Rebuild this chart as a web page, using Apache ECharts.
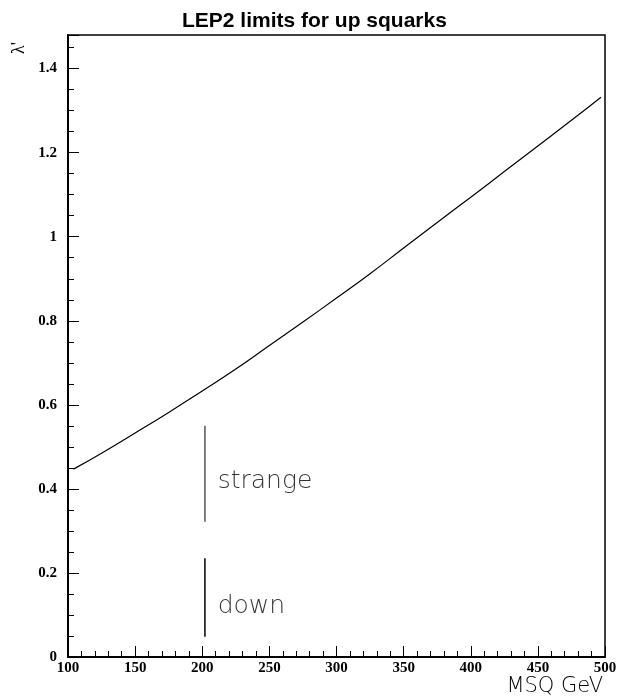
<!DOCTYPE html>
<html>
<head>
<meta charset="utf-8">
<script src="https://cdn.jsdelivr.net/npm/echarts@6/dist/echarts.min.js"></script>
<style>html,body{margin:0;padding:0;background:#fff;}#c{width:620px;height:698px;}</style>
</head>
<body>
<div id="c"></div>
<script>
// Limit curve (MSQ in GeV, lambda' limit)
const msq = [104,125,150,175,200,225,250,275,300,325,350,375,400,425,450,475,497];
const lambdaLimit = [0.447,0.485,0.533,0.582,0.633,0.685,0.741,0.797,0.854,0.912,0.973,1.034,1.094,1.155,1.216,1.277,1.332];
// Vertical marker lines for strange and down
const strangeLine = [[202,0.550],[202,0.322]];
const downLine = [[202,0.235],[202,0.048]];
// Annotation labels [x, y, text]
const annotations = [[211.5,0.417,'strange'],[211.5,0.120,'down']];
const xTicks = {min:100, max:500, interval:50};
const yTicks = {min:0, max:1.48, interval:0.2};

const chart = echarts.init(document.getElementById('c'), null, {renderer:'canvas'});
const tickFont = {fontFamily:'"Liberation Serif", "Times New Roman", serif', fontWeight:'bold', fontSize:15, color:'#000'};
const thinFont = '"DejaVu Sans ExtraLight", "DejaVu Sans", sans-serif';
chart.setOption({
  animation:false,
  backgroundColor:'#fff',
  title:[
    {text:'LEP2 limits for up squarks', left:177, top:6,
     textStyle:{fontFamily:'"Liberation Sans", Arial, sans-serif', fontWeight:'bold', fontSize:21, color:'#000'}},
    {text:'MSQ GeV', right:12, top:671,
     textStyle:{fontFamily:thinFont, fontWeight:200, fontSize:21, color:'#000'}}
  ],
  graphic:[
    {type:'text', x:10, y:54, rotation:Math.PI/2, originX:0, originY:0,
     style:{text:"λ'", font:'18px "Liberation Serif", serif', fill:'#000', x:0, y:0}}
  ],
  grid:{left:68, right:15, top:35, bottom:41, show:true, borderColor:'#000', borderWidth:1.5},
  xAxis:{
    type:'value', min:xTicks.min, max:xTicks.max, interval:xTicks.interval,
    axisLine:{show:true, onZero:false, lineStyle:{color:'#000', width:2}},
    axisTick:{show:true, inside:true, length:11, lineStyle:{color:'#000', width:1}},
    minorTick:{show:true, splitNumber:5, length:6, lineStyle:{color:'#000', width:1}},
    splitLine:{show:false},
    axisLabel:{...tickFont, margin:4, showMinLabel:true, showMaxLabel:true}
  },
  yAxis:{
    type:'value', min:yTicks.min, max:yTicks.max, interval:yTicks.interval,
    axisLine:{show:true, onZero:false, lineStyle:{color:'#000', width:2}},
    axisTick:{show:true, inside:true, length:11, lineStyle:{color:'#000', width:1}},
    minorTick:{show:true, splitNumber:4, length:6, lineStyle:{color:'#000', width:1}},
    splitLine:{show:false},
    axisLabel:{...tickFont, margin:11, showMaxLabel:false,
      formatter:v=>String(Math.round(v*10)/10)}
  },
  series:[
    {type:'line', data:msq.map((x,i)=>[x,lambdaLimit[i]]), showSymbol:false, smooth:true,
     lineStyle:{color:'#000', width:1.2}},
    {type:'line', data:strangeLine, showSymbol:false, lineStyle:{color:'#555', width:1.5}},
    {type:'line', data:downLine, showSymbol:false, lineStyle:{color:'#000', width:1.5}},
    {type:'scatter', data:annotations, symbolSize:0,
     label:{show:true, position:'right', distance:0, formatter:p=>p.data[2],
       fontFamily:thinFont, fontWeight:200, fontSize:25, color:'#000'}}
  ]
});
</script>
</body>
</html>
